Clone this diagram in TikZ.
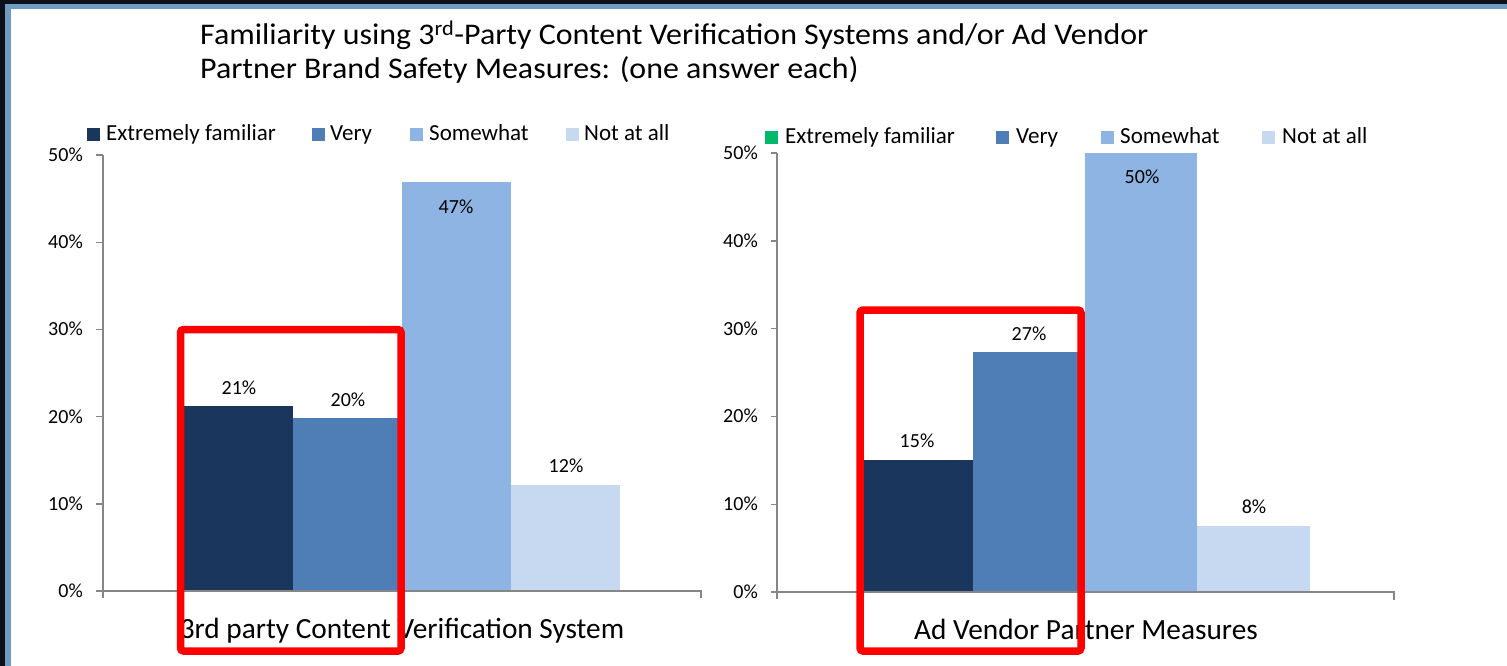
\documentclass[tikz,border=0pt]{standalone}
\usepackage{graphicx}
\usepackage{fontspec}
\setmainfont{Carlito}
\definecolor{framedark}{RGB}{12,16,26}
\definecolor{frameblue}{RGB}{112,156,192}
\definecolor{cA}{RGB}{26,54,93}
\definecolor{cB}{RGB}{79,125,181}
\definecolor{cC}{RGB}{142,180,227}
\definecolor{cD}{RGB}{198,217,241}
\definecolor{cG}{RGB}{0,185,107}
\definecolor{axisgray}{RGB}{134,134,134}
\begin{document}
\begin{tikzpicture}[x=1pt,y=-1pt,
  axisline/.style={draw=axisgray,line width=1.4pt},
  ylab/.style={anchor=base east,inner sep=0pt,font=\fontsize{20}{24}\selectfont},
  blab/.style={anchor=center,inner sep=0pt,font=\fontsize{20}{24}\selectfont},
  leg/.style={anchor=base west,inner sep=0pt,font=\fontsize{23}{27}\selectfont},
  ttl/.style={anchor=base west,inner sep=0pt,font=\fontsize{30}{36}\selectfont},
  catlab/.style={anchor=base,inner sep=0pt,font=\fontsize{29.3}{34}\selectfont},
  redbox/.style={draw=red,line width=7.5pt,rounded corners=3pt}]
\useasboundingbox (0,0) rectangle (1507,666);
\fill[white] (0,0) rectangle (1507,666);
% frame
\fill[framedark] (0,0) rectangle (1507,4);
\fill[framedark] (0,0) rectangle (5,666);
\fill[frameblue] (5,4) rectangle (1507,9);
\fill[frameblue] (5,4) rectangle (11,666);
% title
\node[ttl] (t1) at (200,45) {\scalebox{1.064}[1]{Familiarity using 3\textsuperscript{rd}-Party Content Verification Systems and/or Ad Vendor}};
\node[ttl] (t2) at (200,79) {\scalebox{1.064}[1]{Partner Brand Safety Measures: (one answer each)}};
% ---------------- left chart ----------------
% legend
\fill[cA] (87,128) rectangle (100,141);
\node[leg] (la) at (106,141) {Extremely familiar};
\fill[cB] (312,128) rectangle (325,141);
\node[leg] (lb) at (330,141) {Very};
\fill[cC] (410,128) rectangle (423,141);
\node[leg] (lc) at (429,141) {Somewhat};
\fill[cD] (566,128) rectangle (579,141);
\node[leg] (ld) at (584,141) {Not at all};
% bars (0 at 591, 8.72 per %)
\fill[cA] (184,591) rectangle (293,{591-21.2*8.72});
\fill[cB] (293,591) rectangle (402,{591-19.8*8.72});
\fill[cC] (402,591) rectangle (511,{591-46.9*8.72});
\fill[cD] (511,591) rectangle (620,{591-12.2*8.72});
\node[blab] (va) at (239,388) {21\%};
\node[blab] (vb) at (348,400) {20\%};
\node[blab] (vc) at (456,207) {47\%};
\node[blab] (vd) at (566,466) {12\%};
% axes
\draw[axisline] (103,155) -- (103,598);
\draw[axisline] (103,591) -- (701,591) -- (701,598);
\foreach \p in {0,1,...,5}{
  \draw[axisline] (96,{591-\p*87.2}) -- (103,{591-\p*87.2});
  \node[ylab] (yl\p) at (83,{591-\p*87.2+6.5}) {\the\numexpr\p*10\relax\%};
}
\node[catlab] (cl) at (402,638) {3rd party Content Verification System};
\draw[redbox] (180.5,329.5) rectangle (401,651);
% ---------------- right chart ----------------
\fill[cG] (765,131) rectangle (778,144);
\node[leg] (ra) at (785,144) {Extremely familiar};
\fill[cB] (996,131) rectangle (1009,144);
\node[leg] (rb) at (1016,144) {Very};
\fill[cC] (1101,131) rectangle (1114,144);
\node[leg] (rc) at (1120,144) {Somewhat};
\fill[cD] (1262,131) rectangle (1275,144);
\node[leg] (rd) at (1282,144) {Not at all};
% bars (0 at 592, 8.78 per %)
\fill[cA] (862,592) rectangle (973,{592-15.0*8.78});
\fill[cB] (973,592) rectangle (1085,{592-27.3*8.78});
\fill[cC] (1085,592) rectangle (1197,{592-50.0*8.78});
\fill[cD] (1197,592) rectangle (1310,{592-7.5*8.78});
\node[blab] (wa) at (917,441) {15\%};
\node[blab] (wb) at (1029,334) {27\%};
\node[blab] (wc) at (1142,177) {50\%};
\node[blab] (wd) at (1254,507) {8\%};
\draw[axisline] (777,153) -- (777,599);
\draw[axisline] (777,592) -- (1394,592) -- (1394,600);
\foreach \p in {0,1,...,5}{
  \draw[axisline] (771,{592-\p*87.8}) -- (777,{592-\p*87.8});
  \node[ylab] (zl\p) at (758,{592-\p*87.8+6.5}) {\the\numexpr\p*10\relax\%};
}
\node[catlab] (cr) at (1086,639) {Ad Vendor Partner Measures};
\draw[redbox] (860,310) rectangle (1081,651);
\end{tikzpicture}
\end{document}
